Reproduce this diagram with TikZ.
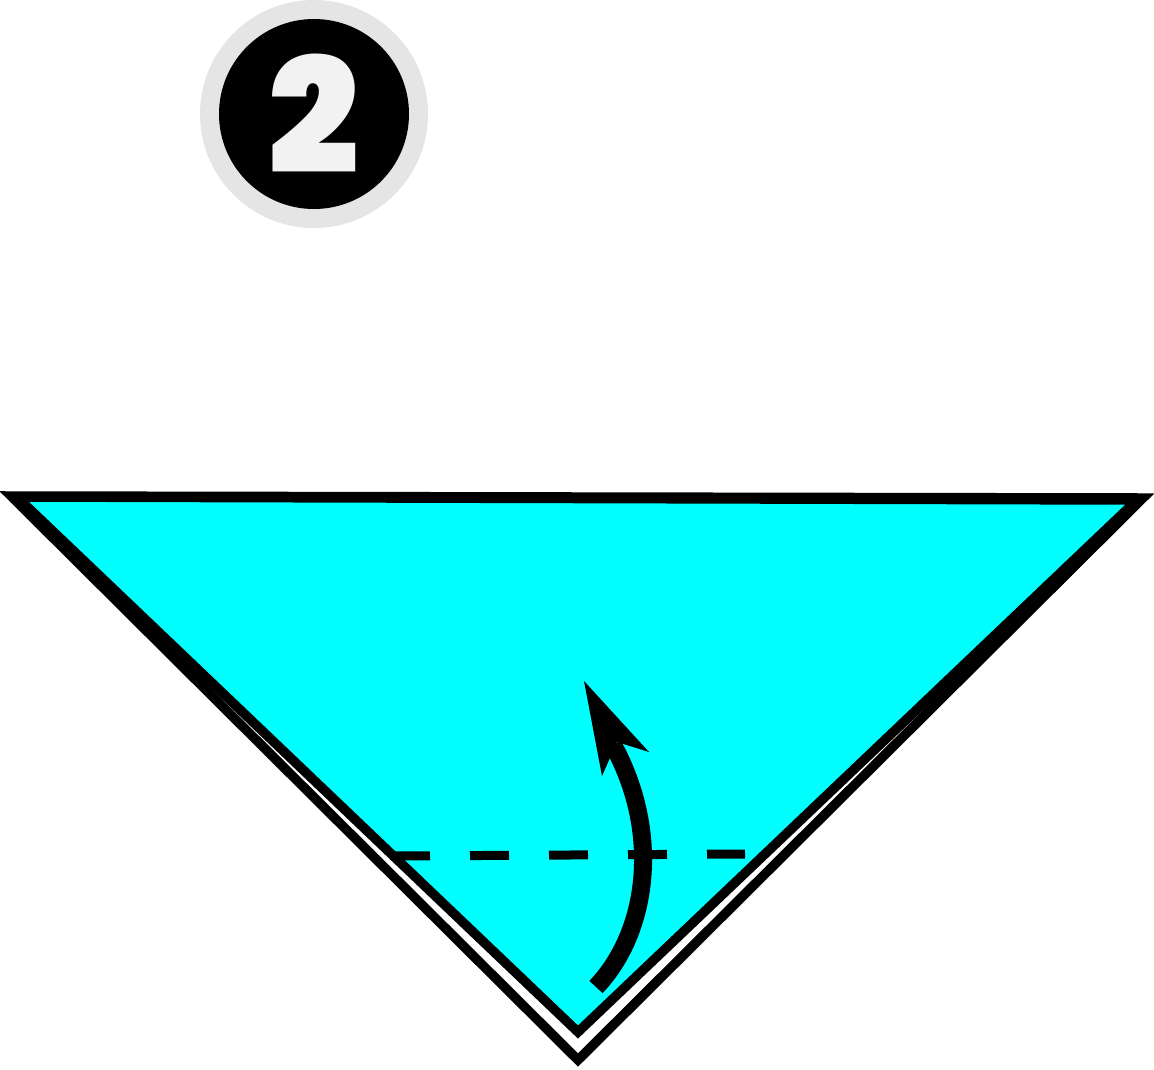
\documentclass[tikz,border=0pt]{standalone}
\usepackage{fontspec}
\newfontfamily\badgefont{Poppins Black}
\definecolor{paper}{HTML}{00FFFF}
\definecolor{ringgray}{HTML}{E5E5E5}
\definecolor{digitgray}{HTML}{F2F2F2}

\begin{document}
\begin{tikzpicture}[x=1pt,y=-1pt,
    edge/.style={line width=9.5pt, line join=miter},
    foldline/.style={line width=9pt, dash pattern=on 39pt off 40pt},
    shaft/.style={line width=18pt}]

\useasboundingbox (0,0) rectangle (1154,1069);

% step badge
\fill[ringgray] (314,114) circle (114pt);
\fill[black] (314,114) circle (95pt);
\node[inner sep=0pt, text=digitgray,
      font=\badgefont\fontsize{160}{160}\selectfont] (num) at (314,114) {2};

% back layer
\draw[edge, fill=white] (11,496) -- (1143,498) -- (578,1060) -- cycle;

% front layer
\draw[edge, fill=paper] (17,497) -- (1137,500) -- (578,1032) -- cycle;

% valley fold
\draw[foldline] (391,856) -- (745,854);

% fold arrow
\draw[shaft] (596,987) .. controls (650,930) and (660,830) .. (613,745);
\fill (584,681) -- (649,752) -- (617,742) -- (602,776) -- cycle;

\end{tikzpicture}
\end{document}
